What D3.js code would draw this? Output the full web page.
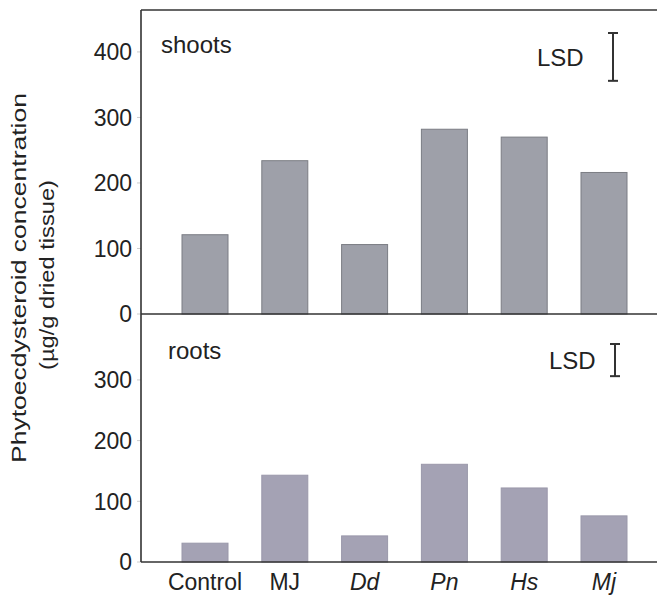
<!DOCTYPE html>
<meta charset="utf-8">
<style>
body { margin: 0; background: #fff; }
svg { font-family: "Liberation Sans", Arial, Helvetica, sans-serif; }
.frame { stroke: #333; stroke-width: 1.6; fill: none; }
.tick-label { font-size: 23px; fill: #222; }
.cat { font-size: 23px; fill: #222; }
.panel-label { font-size: 24px; fill: #222; }
.lsd line { stroke: #333; stroke-width: 2; }
</style>
<div id="chart"></div>
<script src="https://d3js.org/d3.v7.min.js"></script>
<script>
var categories = ["Control", "MJ", "Dd", "Pn", "Hs", "Mj"];
var italicCats = ["Dd", "Pn", "Hs", "Mj"];
var shoots = [121, 234, 106, 282, 270, 216];
var roots = [31, 143, 43, 161, 122, 76];
var shootTicks = [0, 100, 200, 300, 400];
var rootTicks = [0, 100, 200, 300];
var shootLSD = 73;
var rootLSD = 53;

var width = 657, height = 596;
var left = 141, right = 657;

var svg = d3.select("#chart").append("svg")
  .attr("width", width)
  .attr("height", height);

var x = d3.scalePoint().domain(categories).range([205, 604]);
var barW = 46;

var yTop = d3.scaleLinear().domain([0, 464]).range([314, 10]);
var yBot = d3.scaleLinear().domain([0, 407]).range([562, 315]);

function panel(y, values, ticks, fill, stroke, label, labelX, labelY, lsd, lsdTextX, lsdX, lsdTop) {
  var g = svg.append("g");

  g.selectAll("rect").data(values).enter().append("rect")
    .attr("x", function(d, i) { return x(categories[i]) - barW / 2; })
    .attr("y", function(d) { return y(d); })
    .attr("width", barW)
    .attr("height", function(d) { return y(0) - y(d); })
    .attr("fill", fill)
    .attr("stroke", stroke)
    .attr("stroke-width", 1);

  g.selectAll(".tick-label").data(ticks).enter().append("text")
    .attr("class", "tick-label")
    .attr("x", 132)
    .attr("y", function(d) { return y(d); })
    .attr("dy", "0.36em")
    .attr("text-anchor", "end")
    .text(function(d) { return d; });

  g.selectAll(".tk").data(ticks).enter().append("line")
    .attr("x1", left - 4).attr("x2", left)
    .attr("y1", function(d) { return y(d); })
    .attr("y2", function(d) { return y(d); })
    .attr("stroke", "#ccc");

  g.append("text").attr("class", "panel-label")
    .attr("x", labelX).attr("y", labelY).text(label);

  var lg = g.append("g").attr("class", "lsd");
  var h = y(0) - y(lsd);
  lg.append("text").attr("class", "panel-label")
    .attr("x", lsdTextX).attr("y", lsdTop + h / 2)
    .attr("dy", "0.36em").text("LSD");
  lg.append("line").attr("x1", lsdX).attr("x2", lsdX).attr("y1", lsdTop).attr("y2", lsdTop + h);
  lg.append("line").attr("x1", lsdX - 5).attr("x2", lsdX + 5).attr("y1", lsdTop).attr("y2", lsdTop);
  lg.append("line").attr("x1", lsdX - 5).attr("x2", lsdX + 5).attr("y1", lsdTop + h).attr("y2", lsdTop + h);
}

panel(yTop, shoots, shootTicks, "#9ea0a9", "#7b7d84", "shoots", 161, 53, shootLSD, 537, 613, 33);
panel(yBot, roots, rootTicks, "#a4a2b4", "#9a98aa", "roots", 168, 359, rootLSD, 549, 615, 344);

// frame lines
svg.append("line").attr("class", "frame").attr("x1", left).attr("x2", right).attr("y1", yTop.range()[1]).attr("y2", yTop.range()[1]);
svg.append("line").attr("class", "frame").attr("x1", left).attr("x2", right).attr("y1", yTop(0)).attr("y2", yTop(0));
svg.append("line").attr("class", "frame").attr("x1", left).attr("x2", right).attr("y1", yBot(0)).attr("y2", yBot(0));
svg.append("line").attr("class", "frame").attr("x1", left).attr("x2", left).attr("y1", yTop.range()[1]).attr("y2", yBot(0));

// category labels
svg.selectAll(".cat").data(categories).enter().append("text")
  .attr("class", "cat")
  .attr("x", function(d) { return x(d); })
  .attr("y", 590)
  .attr("text-anchor", "middle")
  .style("font-style", function(d) { return italicCats.indexOf(d) >= 0 ? "italic" : "normal"; })
  .text(function(d) { return d; });

// y title
var title = svg.append("g").attr("transform", "translate(0,278) rotate(-90)");
title.append("text")
  .attr("x", 0).attr("y", 26)
  .attr("text-anchor", "middle")
  .attr("font-size", 20)
  .attr("fill", "#222")
  .attr("textLength", 370).attr("lengthAdjust", "spacingAndGlyphs")
  .text("Phytoecdysteroid concentration");
title.append("text")
  .attr("x", 3).attr("y", 54)
  .attr("text-anchor", "middle")
  .attr("font-size", 20)
  .attr("fill", "#222")
  .attr("textLength", 190).attr("lengthAdjust", "spacingAndGlyphs")
  .text("(\u00b5g/g dried tissue)");
</script>
